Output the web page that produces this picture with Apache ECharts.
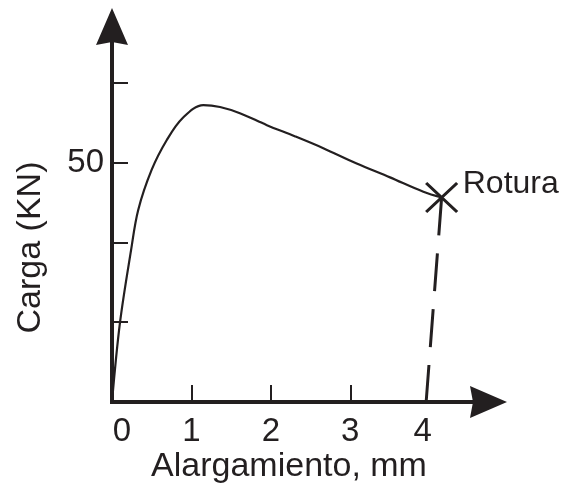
<!DOCTYPE html>
<html>
<head>
<meta charset="utf-8">
<script src="https://cdn.jsdelivr.net/npm/echarts@6/dist/echarts.min.js"></script>
<style>
  html, body { margin: 0; padding: 0; background: #fff; }
  #chart { width: 573px; height: 491px; }
</style>
</head>
<body>
<div id="chart"></div>
<script>
// Load–elongation curve of a tensile test
const elongation = [0, 0.10, 0.24, 0.33, 0.50, 0.69, 0.89, 1.15, 1.36, 1.61, 1.95, 2.30, 2.66, 3.08, 3.50, 3.92, 4.15];
const load       = [0, 16.5, 31.7, 40.1, 48.5, 54.7, 59.3, 62.0, 61.6, 60.3, 57.8, 55.5, 53.0, 49.8, 46.9, 43.9, 42.7];

// Fracture point and the unloading (elastic recovery) drop
const fracture = [4.15, 42.7];
const residualElongation = 3.955;
const fractureLabel = 'Rotura';

// Axes
const xTickValues = [1, 2, 3];
const xLabelValues = [0, 1, 2, 3, 4];
const yTickValues = [0, 50 / 3, 100 / 3, 50, 200 / 3];
const yLabelValues = [50];
const xName = 'Alargamiento, mm';
const yName = 'Carga (KN)';

const ink = '#231f20';
const font = '"Liberation Sans", Arial, Helvetica, sans-serif';
const arrow = 'path://M0,0 L16,37 L0,34 L-16,37 Z';

const curve = elongation.map((x, i) => [x, load[i]]);
const drop = [fracture, [residualElongation, 0]];

const chart = echarts.init(document.getElementById('chart'), null, { renderer: 'canvas' });

chart.setOption({
  animation: false,
  backgroundColor: '#fff',
  grid: { left: 112, right: 84.5, top: 26.5, bottom: 89 },
  xAxis: {
    type: 'value',
    min: 0,
    max: 4.74,
    splitLine: { show: false },
    axisLine: {
      show: true,
      symbol: ['none', arrow],
      symbolSize: [32, 37],
      lineStyle: { color: ink, width: 4, cap: 'square' }
    },
    axisTick: {
      show: true,
      inside: true,
      length: 17,
      customValues: xTickValues,
      lineStyle: { color: ink, width: 2 }
    },
    axisLabel: {
      show: true,
      customValues: xLabelValues,
      margin: 13,
      color: ink,
      fontFamily: font,
      fontSize: 33,
      formatter: v => v === 0 ? '{first|0}' : (v === 4 ? '{last|4}' : String(v)),
      rich: {
        first: { color: ink, fontFamily: font, fontSize: 33, padding: [0, 0, 0, 20] },
        last: { color: ink, fontFamily: font, fontSize: 33, padding: [0, 14, 0, 0] }
      }
    }
  },
  yAxis: {
    type: 'value',
    min: 0,
    max: 78.4,
    splitLine: { show: false },
    axisLine: {
      show: true,
      symbol: ['none', arrow],
      symbolSize: [32, 37],
      lineStyle: { color: ink, width: 4, cap: 'square' }
    },
    axisTick: {
      show: true,
      inside: true,
      length: 16,
      customValues: yTickValues,
      lineStyle: { color: ink, width: 2 }
    },
    axisLabel: {
      show: true,
      customValues: yLabelValues,
      margin: 8,
      color: ink,
      fontFamily: font,
      fontSize: 33,
      padding: [6, 0, 0, 0]
    }
  },
  graphic: [
    {
      type: 'text',
      x: 289, y: 467,
      style: { text: xName, fill: ink, font: '34px ' + font, textAlign: 'center', textVerticalAlign: 'middle' }
    },
    {
      type: 'text',
      x: 31, y: 247.5,
      rotation: Math.PI / 2,
      style: { text: yName, fill: ink, font: '34px ' + font, textAlign: 'center', textVerticalAlign: 'middle' }
    }
  ],
  series: [
    {
      type: 'line',
      data: curve,
      smooth: 0.35,
      symbol: 'none',
      lineStyle: { color: ink, width: 2.2 },
      z: 3
    },
    {
      type: 'line',
      data: drop,
      symbol: 'none',
      lineStyle: { color: ink, width: 3, type: [38, 18] },
      z: 2
    },
    {
      type: 'scatter',
      data: [fracture],
      symbol: 'path://M0,0 L30,28 M30,0 L0,28',
      symbolSize: [31, 29],
      itemStyle: { color: 'none', borderColor: ink, borderWidth: 3, opacity: 1 },
      label: {
        show: true,
        formatter: fractureLabel,
        position: 'right',
        distance: 3,
        offset: [0, -13],
        color: ink,
        opacity: 1,
        fontFamily: font,
        fontSize: 32
      },
      z: 4
    }
  ]
});
</script>
</body>
</html>
